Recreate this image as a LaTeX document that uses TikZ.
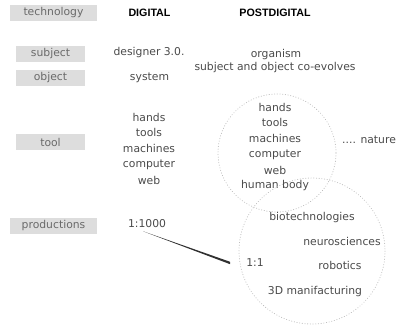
\documentclass[tikz,border=0pt]{standalone}
\usepackage{fontspec}
\setmainfont{DejaVu Sans}
\newfontfamily\headfont{Liberation Sans}
\usepackage{tikz}
\usetikzlibrary{calc}
\usetikzlibrary{positioning}
\definecolor{pd-box}{HTML}{DDDDDD}
\definecolor{pd-label}{HTML}{6A6A6A}
\definecolor{pd-text}{HTML}{4A4A4A}
\definecolor{pd-dots}{HTML}{BEBEBE}
\definecolor{pd-line}{HTML}{303030}

\begin{document}
\begin{tikzpicture}[x=1pt, y=-1pt,
    rowlabel/.style={fill=pd-box, text=pd-label, minimum width=69pt, minimum height=16pt,
        inner sep=0pt, font=\fontsize{10.8}{12}\selectfont},
    widelabel/.style={rowlabel, minimum width=87pt},
    heading/.style={inner sep=0pt, font=\headfont\fontsize{10.7}{12}\selectfont\bfseries},
    item/.style={text=pd-text, inner sep=0pt, font=\fontsize{10.8}{12}\selectfont},
    ring/.style={draw=pd-dots, dash pattern=on 0.4pt off 2.3pt, line cap=round, line width=0.8pt}]
    \useasboundingbox (0,0) rectangle (403,327);

    % --- Row labels ---
    \node[widelabel] (technology) at (53.5,13) {technology};
    \node[rowlabel] (subject) at (50.5,54) {subject};
    \node[rowlabel] (object) at (50.5,78) {object};
    \node[rowlabel] (tool) at (50.5,142) {tool};
    \node[widelabel] (productions) at (53.5,226) {productions};

    % --- Column headings ---
    \node[heading] (digital) at (149.5,13) {DIGITAL};
    \node[heading] (postdigital) at (275,13) {POSTDIGITAL};

    % --- Digital column ---
    \node[item] (designer) at (149,53) {designer 3.0.};
    \node[item] (system) at (149.5,78) {system};
    \foreach \w [count=\i] in {hands,tools,machines,computer,web}
        \node[item] (dtool\i) at (149,117+15.8*\i-15.8) {\w};
    \node[item] (k1000) at (147,224) {1:1000};

    % --- Postdigital column ---
    \node[item] (organism) at (276,55) {organism};
    \node[item] (coevolve) at (275,68) {subject and object co-evolves};
    \draw[ring] (277,153) circle[radius=59];
    \foreach \w [count=\i] in {hands,tools,machines,computer,web,human body}
        \node[item] (ptool\i) at (275,107+15.8*\i-15.8) {\w};
    \node[item, anchor=west] (nature) at (342,140) {.... nature};

    % --- Productions circle ---
    \draw[ring] (312,251) circle[radius=73];
    \node[item] (biotech) at (312,218) {biotechnologies};
    \node[item] (neuro) at (342,241) {neurosciences};
    \node[item] (k11) at (255,263) {1:1};
    \node[item] (robotics) at (340,265) {robotics};
    \node[item] (manif) at (315,292) {3D manifacturing};

    % scale jump 1:1000 -> 1:1
    \fill[pd-line] ($(k1000.south)+(-4,3)$) -- ($(k11.west)+(-16,-1.2)$)
        -- ($(k11.west)+(-16,1.2)$) -- cycle;
\end{tikzpicture}
\end{document}
